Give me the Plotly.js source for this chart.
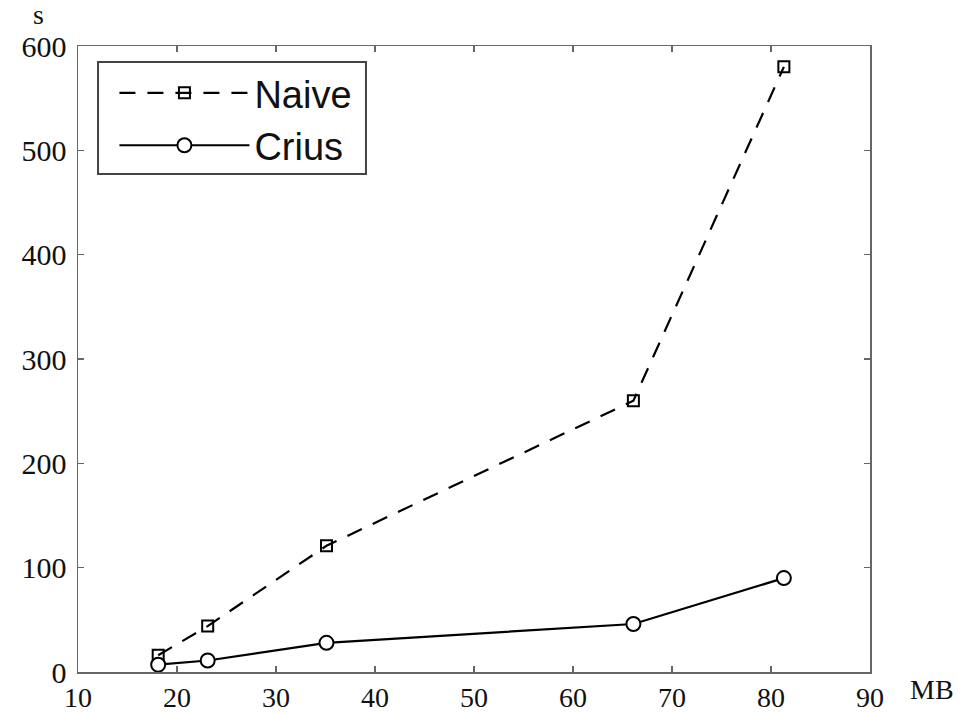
<!DOCTYPE html>
<html>
<head>
<meta charset="utf-8">
<script src="https://cdn.plot.ly/plotly-3.0.1.min.js"></script>
<style>html,body{margin:0;padding:0;background:#fff}#chart{width:967px;height:714px}</style>
</head>
<body>
<div id="chart"></div>
<script>
const sizesMB = [18.1, 23.1, 35.1, 66.1, 81.3];
const naiveSec = [16, 44, 121, 260, 580];
const criusSec = [7, 11, 28, 46, 90];
const xTicks = [10, 20, 30, 40, 50, 60, 70, 80, 90];
const yTicks = [0, 100, 200, 300, 400, 500, 600];

const serif = "Liberation Serif, Times New Roman, serif";
const sans = "Liberation Sans, Arial, sans-serif";

const traces = [
  {
    x: sizesMB, y: naiveSec, name: "Naive", type: "scatter", mode: "lines+markers",
    line: {color: "#000", width: 2.2, dash: "16px,12px"},
    marker: {symbol: "square-open", size: 11, color: "#000", line: {width: 2, color: "#000"}}
  },
  {
    x: sizesMB, y: criusSec, name: "Crius", type: "scatter", mode: "lines+markers",
    line: {color: "#000", width: 2.2},
    marker: {symbol: "circle", size: 14, color: "#fff", line: {width: 2, color: "#000"}}
  }
];

const axisCommon = {
  showgrid: false, zeroline: false, showline: true, linecolor: "#666", linewidth: 1.5,
  mirror: "ticks", ticks: "inside", ticklen: 6, tickwidth: 1.2, tickcolor: "#666",
  tickfont: {family: serif, size: 30, color: "#111"}, tickmode: "array"
};

const layout = {
  width: 967, height: 714,
  margin: {l: 78, r: 97, t: 46, b: 42},
  paper_bgcolor: "#fff", plot_bgcolor: "#fff",
  showlegend: true,
  xaxis: Object.assign({}, axisCommon, {range: [10, 90], tickvals: xTicks, ticktext: xTicks.map(String),
    tickfont: {family: serif, size: 28, color: "#111"}}),
  yaxis: Object.assign({}, axisCommon, {range: [0, 600], tickvals: yTicks, ticktext: yTicks.map(String), ticklabelstandoff: 4}),
  legend: {
    x: 0.046, y: 0.975, xanchor: "left", yanchor: "top",
    bgcolor: "rgba(0,0,0,0)", borderwidth: 0,
    font: {family: sans, size: 38, color: "#111"},
    itemwidth: 130, tracegroupgap: 0
  },
  shapes: [
    {type: "rect", xref: "paper", yref: "paper", x0: 0.0253, x1: 0.3636, y0: 0.7955, y1: 0.9744,
     line: {color: "#444", width: 2}, fillcolor: "#fff", layer: "above"}
  ],
  annotations: [
    {text: "s", xref: "paper", yref: "paper", x: -0.05, y: 1.0, yshift: 14, xanchor: "center", yanchor: "bottom", showarrow: false, font: {family: serif, size: 28, color: "#111"}},
    {text: "MB", xref: "paper", yref: "paper", x: 1.0, y: 0, xshift: 38, yshift: 0, xanchor: "left", yanchor: "top", showarrow: false, font: {family: serif, size: 28, color: "#111"}}
  ]
};

Plotly.newPlot("chart", traces, layout, {staticPlot: true});
</script>
</body>
</html>
